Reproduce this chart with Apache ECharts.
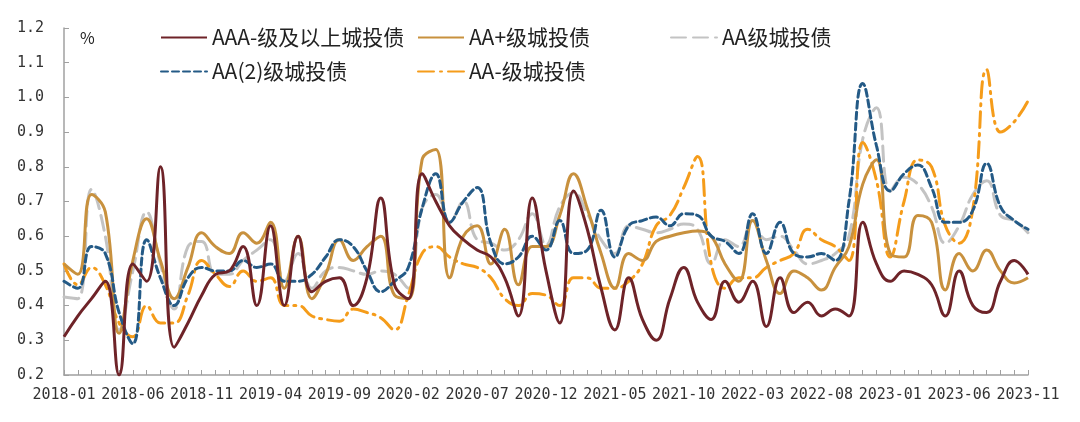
<!DOCTYPE html>
<html><head><meta charset="utf-8">
<script src="https://cdn.jsdelivr.net/npm/echarts@6/dist/echarts.min.js"></script>
<style>html,body{margin:0;padding:0;background:#fff}#c{width:1080px;height:422px}</style>
</head><body><div id="c"></div>
<script>
// categories: monthly 2018-01 .. 2023-11
const months = [];
for (let y = 2018; y <= 2023; y++) for (let m = 1; m <= 12; m++) {
  if (y === 2023 && m > 11) break;
  months.push(y + '-' + String(m).padStart(2, '0'));
}
const seriesNames = ['AAA-级及以上城投债', 'AA+级城投债', 'AA级城投债', 'AA(2)级城投债', 'AA-级城投债'];
const yTicks = { min: 0.2, max: 1.2, step: 0.1 };

const aaaUp = [0.31,0.37,0.42,0.47,0.20,0.52,0.47,0.80,0.28,0.35,
  0.43,0.49,0.50,0.57,0.40,0.63,0.40,0.60,0.44,0.47,
  0.48,0.40,0.48,0.71,0.46,0.42,0.78,0.70,0.63,0.59,
  0.56,0.54,0.48,0.37,0.71,0.50,0.35,0.73,0.62,0.45,
  0.33,0.48,0.36,0.30,0.42,0.51,0.41,0.36,0.47,0.41,
  0.47,0.34,0.48,0.38,0.41,0.37,0.39,0.37,0.64,0.52,
  0.47,0.50,0.49,0.46,0.37,0.50,0.40,0.38,0.47,0.53,0.49];
const aaPlus = [0.52,0.49,0.72,0.67,0.32,0.53,0.65,0.53,0.42,0.51,
  0.61,0.57,0.55,0.61,0.58,0.64,0.45,0.60,0.42,0.49,
  0.59,0.53,0.57,0.60,0.43,0.42,0.82,0.85,0.48,0.60,
  0.63,0.52,0.62,0.46,0.57,0.57,0.66,0.78,0.68,0.55,
  0.45,0.55,0.53,0.585,0.60,0.61,0.615,0.60,0.52,0.47,
  0.645,0.53,0.435,0.50,0.48,0.445,0.51,0.57,0.75,0.82,
  0.55,0.54,0.66,0.64,0.445,0.55,0.50,0.56,0.50,0.465,0.48];
const aa = [0.425,0.42,0.735,0.60,0.33,0.50,0.67,0.52,0.39,0.57,
  0.585,0.49,0.49,0.53,0.56,0.59,0.47,0.55,0.45,0.50,
  0.51,0.50,0.49,0.50,0.49,0.45,0.68,0.72,0.64,0.70,
  0.59,0.58,0.56,0.59,0.665,0.575,0.685,0.725,0.665,0.59,
  0.55,0.63,0.62,0.61,0.62,0.635,0.62,0.52,0.59,0.57,
  0.645,0.59,0.60,0.56,0.52,0.53,0.55,0.60,0.88,0.97,
  0.73,0.77,0.75,0.685,0.58,0.63,0.72,0.76,0.66,0.645,0.61];
const aa2 = [0.47,0.45,0.57,0.55,0.38,0.29,0.59,0.48,0.40,0.48,
  0.51,0.50,0.50,0.53,0.51,0.52,0.47,0.47,0.49,0.54,
  0.59,0.57,0.50,0.44,0.47,0.51,0.68,0.78,0.64,0.70,
  0.74,0.58,0.52,0.54,0.60,0.56,0.645,0.55,0.56,0.675,
  0.54,0.63,0.645,0.655,0.63,0.665,0.66,0.60,0.585,0.55,
  0.665,0.55,0.64,0.55,0.54,0.55,0.53,0.70,1.04,0.86,
  0.73,0.78,0.805,0.74,0.64,0.64,0.675,0.81,0.685,0.645,0.62];
const aaMinus = [0.52,0.46,0.51,0.46,0.35,0.31,0.40,0.35,0.35,0.43,
  0.53,0.49,0.455,0.50,0.47,0.48,0.40,0.40,0.37,0.36,
  0.355,0.39,0.38,0.365,0.33,0.43,0.55,0.57,0.54,0.52,
  0.51,0.48,0.42,0.40,0.435,0.43,0.40,0.48,0.48,0.45,
  0.45,0.47,0.52,0.63,0.66,0.74,0.83,0.52,0.45,0.48,
  0.48,0.51,0.53,0.55,0.62,0.59,0.57,0.53,0.87,0.76,
  0.54,0.70,0.82,0.80,0.63,0.58,0.68,1.08,0.90,0.93,0.99];

const colors = ['#6E2328', '#C8913E', '#C3C3C3', '#245A86', '#F59C1A'];
const dashes = ['solid', 'solid', [15, 7], [7, 4], [16, 6, 2, 6]];
const values = [aaaUp, aaPlus, aa, aa2, aaMinus];
const drawOrder = [2, 4, 1, 3, 0];
const legendPos = [[160, 27], [417, 27], [670, 27], [160, 61], [417, 61]];

const chart = echarts.init(document.getElementById('c'));
const font = 'DejaVu Sans Mono';
chart.setOption({
  animation: false,
  grid: { left: 64, right: 52, top: 28, bottom: 47 },
  legend: seriesNames.map((n, i) => ({
    data: [n], left: legendPos[i][0], top: legendPos[i][1], padding: 0,
    itemWidth: 46, itemHeight: 14, itemGap: 5,
    selectedMode: false,
    itemStyle: { opacity: 0 },
    textStyle: { fontFamily: 'Noto Sans CJK SC', fontSize: 21, color: '#222' }
  })),
  xAxis: {
    type: 'category', data: months, boundaryGap: false,
    axisLine: { lineStyle: { color: '#A0A0A0', width: 1.5 } },
    axisTick: { inside: true, length: 5, interval: 0, lineStyle: { color: '#A0A0A0' } },
    axisLabel: { interval: 4, fontFamily: font, fontSize: 15, color: '#333', margin: 13 },
    splitLine: { show: false }
  },
  yAxis: {
    type: 'value', min: yTicks.min, max: yTicks.max, interval: yTicks.step,
    name: '%', nameLocation: 'end', nameGap: -18,
    nameTextStyle: { fontFamily: 'Noto Sans CJK SC', fontSize: 16, color: '#222', align: 'left', padding: [0, 0, 0, 16] },
    axisLine: { show: true, lineStyle: { color: '#A0A0A0', width: 1.5 } },
    axisTick: { show: true, inside: true, length: 5, lineStyle: { color: '#A0A0A0' } },
    axisLabel: { fontFamily: font, fontSize: 15, color: '#333', margin: 20, formatter: v => v.toFixed(1) },
    splitLine: { show: false }
  },
  series: drawOrder.map(i => ({
    name: seriesNames[i], type: 'line', data: values[i],
    smooth: 0.45, symbol: 'none', z: 2 + drawOrder.indexOf(i),
    itemStyle: { color: colors[i] },
    lineStyle: { color: colors[i], width: 3, type: dashes[i], cap: i >= 2 ? 'round' : 'butt' }
  }))
});
</script></body></html>
